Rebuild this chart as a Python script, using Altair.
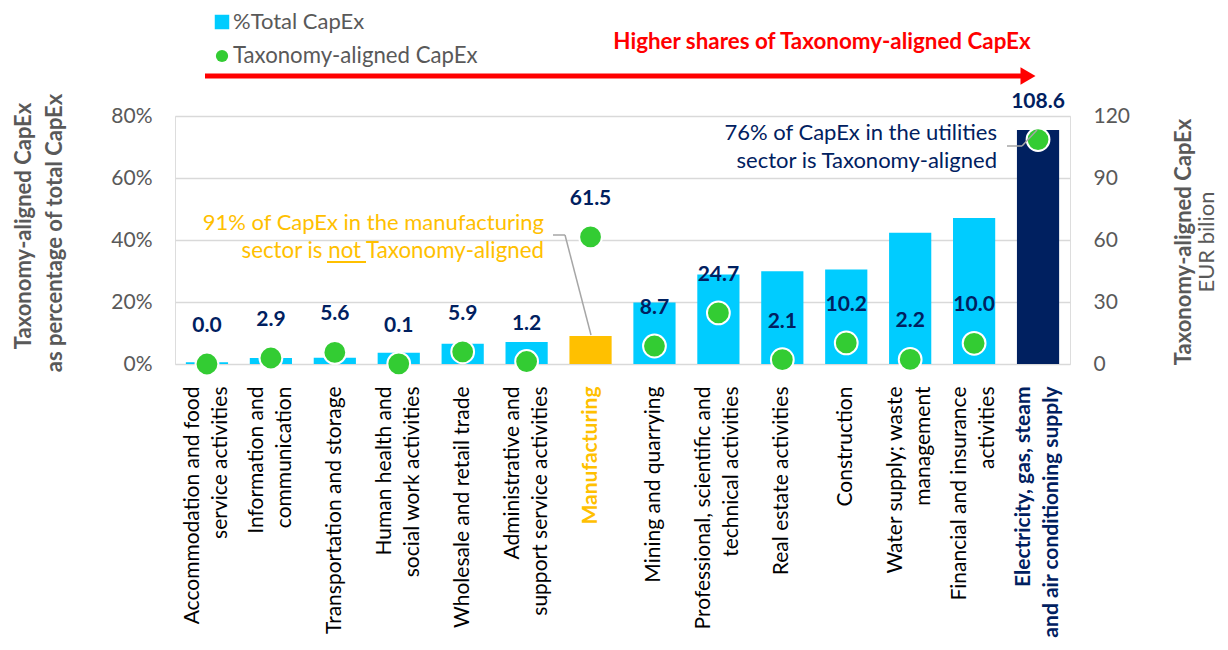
import altair as alt
import pandas as pd

categories = [
    "Accommodation and food\nservice activities",
    "Information and\ncommunication",
    "Transportation and storage",
    "Human health and\nsocial work activities",
    "Wholesale and retail trade",
    "Administrative and\nsupport service activities",
    "Manufacturing",
    "Mining and quarrying",
    "Professional, scientific and\ntechnical activities",
    "Real estate activities",
    "Construction",
    "Water supply; waste\nmanagement",
    "Financial and insurance\nactivities",
    "Electricity, gas, steam\nand air conditioning supply",
]
share_total_capex = [0.006, 0.019, 0.020, 0.036, 0.065, 0.071, 0.090, 0.198,
                     0.289, 0.299, 0.305, 0.423, 0.471, 0.755]
aligned_capex_eur = [0.0, 2.9, 5.6, 0.1, 5.9, 1.2, 61.5, 8.7, 24.7, 2.1, 10.2,
                     2.2, 10.0, 108.6]
left_ticks = [0, 0.2, 0.4, 0.6, 0.8]
right_ticks = [0, 30, 60, 90, 120]

df = pd.DataFrame({
    "category": categories,
    "share": share_total_capex,
    "eur": aligned_capex_eur,
})

FONT = "Lato"
GREY = "#595959"
NAVY = "#002060"
ORANGE = "#FFC000"
BLUE = "#00CCFF"
GREEN = "#33CC33"

x_axis = alt.Axis(
    labelAngle=270,
    labelExpr="split(datum.label, '\\n')",
    labelFont=FONT,
    labelFontSize=21,
    labelLineHeight=28,
    labelColor={"condition": [
        {"test": "indexof(datum.value, 'Manufacturing') >= 0", "value": ORANGE},
        {"test": "indexof(datum.value, 'Electricity') >= 0", "value": NAVY},
    ], "value": "#000000"},
    labelFontWeight={"condition": {
        "test": "indexof(datum.value, 'Manufacturing') >= 0 || indexof(datum.value, 'Electricity') >= 0",
        "value": "bold"}, "value": "normal"},
    labelOffset={"condition": {
        "test": "indexof(datum.value, '\\n') >= 0", "value": -14}, "value": 0},
    labelPadding=22,
    labelLimit=400,
    labelOverlap=False,
    ticks=False,
    domain=False,
    grid=False,
    title=None,
)
x_enc = alt.X("category:N", sort=categories,
              scale=alt.Scale(paddingInner=0.34, paddingOuter=0.17),
              axis=x_axis)

left_axis = alt.Axis(values=left_ticks, format=".0%", grid=True,
                     gridColor="#D9D9D9", gridWidth=1.5, domain=False,
                     ticks=False, labelFont=FONT, labelFontSize=21,
                     labelColor=GREY, labelPadding=23, title=None)
right_axis = alt.Axis(orient="right", values=right_ticks, grid=False,
                      domain=False, ticks=False, labelFont=FONT,
                      labelFontSize=21, labelColor=GREY, labelPadding=23,
                      title=None)

bars = alt.Chart(df).transform_calculate(
    grp="indexof(datum.category,'Manufacturing')>=0 ? 'manu' : "
        "(indexof(datum.category,'Electricity')>=0 ? 'util' : 'other')"
).mark_bar().encode(
    x=x_enc,
    y=alt.Y("share:Q", scale=alt.Scale(domain=[0, 0.8]), axis=left_axis),
    color=alt.Color("grp:N", scale=alt.Scale(domain=["other", "manu", "util"],
                                             range=[BLUE, ORANGE, NAVY]),
                    legend=None),
)

y_right = alt.Y("eur:Q", scale=alt.Scale(domain=[0, 120]), axis=right_axis)

points = alt.Chart(df).mark_point(filled=True, size=520, color=GREEN,
                                  stroke="white", strokeWidth=2,
                                  opacity=1, shape="circle").encode(
    x=x_enc, y=y_right)

value_labels = alt.Chart(df).mark_text(
    dy=-38, font=FONT, fontSize=21, fontWeight="bold", color=NAVY,
    baseline="middle").encode(
    x=x_enc, y=y_right, text=alt.Text("eur:Q", format=".1f"))

right_layer = alt.layer(points, value_labels)


def txt(s, x, y, **kw):
    return alt.Chart(pd.DataFrame({"t": [s]})).mark_text(**kw).encode(
        x=alt.value(x), y=alt.value(y), text="t:N")


def seg(x1, y1, x2, y2, **kw):
    return alt.Chart(pd.DataFrame({"a": [0]})).mark_rule(**kw).encode(
        x=alt.value(x1), y=alt.value(y1), x2=alt.value(x2), y2=alt.value(y2))


def sym(x, y, **kw):
    return alt.Chart(pd.DataFrame({"a": [0]})).mark_point(**kw).encode(
        x=alt.value(x), y=alt.value(y))


decor = [
    # legend
    sym(47, -94, shape="square", filled=True, size=210, color=BLUE, opacity=1),
    sym(47, -60, shape="circle", filled=True, size=150, color=GREEN, opacity=1),
    txt("%Total CapEx", 58, -94, align="left", baseline="middle", font=FONT,
        fontSize=22, color=GREY),
    txt("Taxonomy-aligned CapEx", 58, -60, align="left", baseline="middle",
        font=FONT, fontSize=22.2, color=GREY),
    # red arrow
    seg(30, -40, 850, -40, color="#FF0000", strokeWidth=5),
    sym(853, -40, shape="triangle-right", filled=True, size=300,
        color="#FF0000", opacity=1),
    txt("Higher shares of Taxonomy-aligned CapEx", 647, -74, align="center",
        baseline="middle", font=FONT, fontSize=22.4, fontWeight="bold",
        color="#FF0000"),
    # manufacturing note
    txt("91% of CapEx in the manufacturing", 369, 107, align="right",
        baseline="middle", font=FONT, fontSize=22, color=ORANGE),
    txt("sector is not Taxonomy-aligned", 369, 135, align="right",
        baseline="middle", font=FONT, fontSize=22.3, color=ORANGE),
    seg(152, 146, 191, 146, color=ORANGE, strokeWidth=2),
    seg(378, 119, 390, 119, color="#A6A6A6", strokeWidth=1.5),
    seg(390, 119, 416, 219, color="#A6A6A6", strokeWidth=1.5),
    # utilities note
    txt("76% of CapEx in the utilities", 822, 17, align="right",
        baseline="middle", font=FONT, fontSize=22, color=NAVY),
    txt("sector is Taxonomy-aligned", 822, 45, align="right",
        baseline="middle", font=FONT, fontSize=22, color=NAVY),
    seg(832, 30, 847, 30, color="#A6A6A6", strokeWidth=1.5),
    seg(847, 30, 862, 14, color="#A6A6A6", strokeWidth=1.5),
    # axis titles
    txt("Taxonomy-aligned CapEx", -151, 110, angle=270, align="center",
        baseline="middle", font=FONT, fontSize=22, fontWeight="bold",
        color=GREY),
    txt("as percentage of total CapEx", -120, 117, angle=270, align="center",
        baseline="middle", font=FONT, fontSize=22, fontWeight="bold",
        color=GREY),
    txt("Taxonomy-aligned CapEx", 1009, 126, angle=270, align="center",
        baseline="middle", font=FONT, fontSize=22, fontWeight="bold",
        color=GREY),
    txt("EUR  bilion", 1032, 126, angle=270, align="center",
        baseline="middle", font=FONT, fontSize=22, color=GREY),
]

chart = alt.layer(bars, right_layer, *decor).resolve_scale(
    y="independent"
).properties(
    width=895, height=248,
    padding={"left": 167, "top": 108, "right": 150, "bottom": 278},
    autosize=alt.AutoSizeParams(type="none"),
).configure_view(stroke=None).configure(background="white")

chart.save("out.html", embed_options={"renderer": "svg", "actions": False})
